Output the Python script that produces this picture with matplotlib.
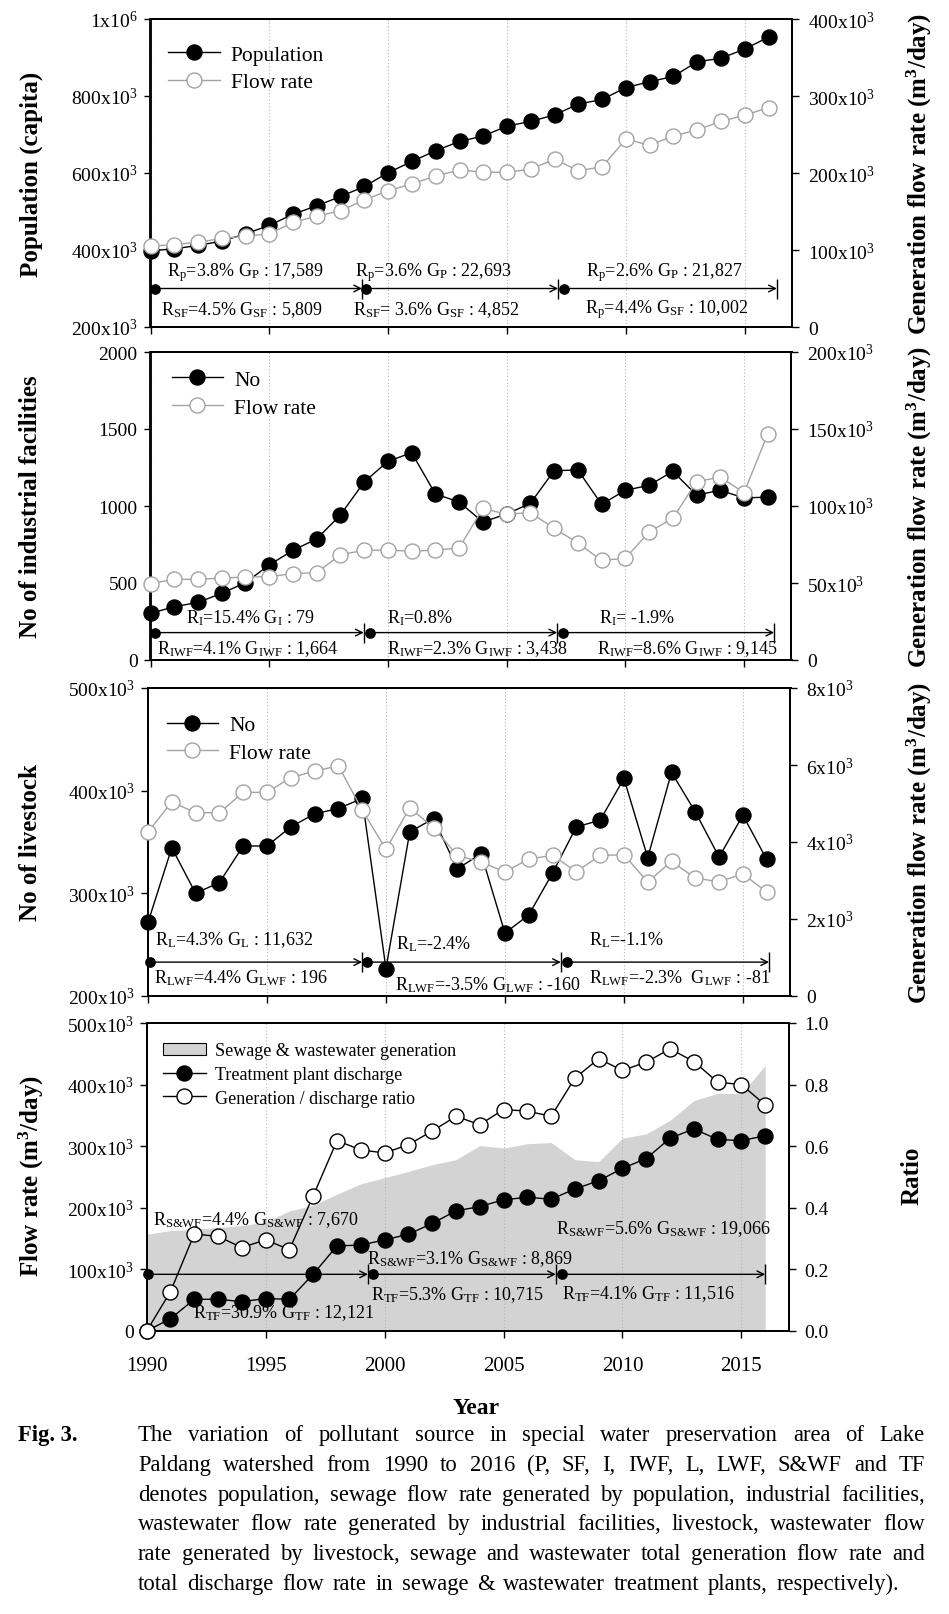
import matplotlib
matplotlib.use('Agg')
import matplotlib.pyplot as plt
from matplotlib.lines import Line2D
from matplotlib.patches import Patch

plt.rcParams['font.family'] = ['Liberation Serif', 'DejaVu Serif']
plt.rcParams['mathtext.fontset'] = 'custom'
plt.rcParams['mathtext.rm'] = 'Liberation Serif'
plt.rcParams['mathtext.it'] = 'Liberation Serif:italic'
plt.rcParams['mathtext.bf'] = 'Liberation Serif:bold'

# ---------------- data ----------------
years = list(range(1990, 2017))

population = [398e3, 403e3, 412e3, 423e3, 442e3, 464e3, 493e3, 515e3, 539e3, 565e3,
              601e3, 630e3, 658e3, 682e3, 696e3, 722e3, 734e3, 751e3, 779e3, 791e3,
              822e3, 837e3, 851e3, 889e3, 898e3, 922e3, 953e3]
pop_flow = [105e3, 107e3, 110e3, 115e3, 118e3, 121e3, 136e3, 144e3, 151e3, 165e3,
            177e3, 186e3, 196e3, 204e3, 201e3, 201e3, 205e3, 218e3, 203e3, 208e3,
            244e3, 236e3, 248e3, 256e3, 267e3, 275e3, 285e3]

ind_no = [303, 346, 374, 433, 502, 617, 712, 786, 942, 1156,
          1290, 1346, 1078, 1026, 896, 948, 1017, 1229, 1234, 1011,
          1102, 1134, 1225, 1071, 1102, 1052, 1058]
ind_flow = [49.6e3, 52.4e3, 52.4e3, 53.2e3, 53.9e3, 54.1e3, 56.1e3, 56.7e3, 68.4e3, 71.2e3,
            71.4e3, 70.6e3, 71.4e3, 72.7e3, 98.5e3, 94.6e3, 95.7e3, 85.5e3, 76.0e3, 64.7e3,
            66.0e3, 83.1e3, 92.0e3, 115.8e3, 118.8e3, 108.7e3, 146.8e3]

live_no = [271.7e3, 344.4e3, 300.1e3, 310.5e3, 346.1e3, 346.1e3, 364.7e3, 377.4e3, 382.6e3, 392.4e3,
           226.7e3, 359.8e3, 372.8e3, 323.9e3, 338.6e3, 261.3e3, 278.9e3, 319.7e3, 364.7e3, 371.2e3,
           411.9e3, 334.7e3, 417.8e3, 379.3e3, 335.3e3, 376.1e3, 333.0e3]
live_flow = [4.26e3, 5.04e3, 4.76e3, 4.76e3, 5.29e3, 5.29e3, 5.67e3, 5.84e3, 5.98e3, 4.83e3,
             3.81e3, 4.89e3, 4.37e3, 3.65e3, 3.48e3, 3.22e3, 3.56e3, 3.65e3, 3.23e3, 3.65e3,
             3.67e3, 2.96e3, 3.50e3, 3.06e3, 2.97e3, 3.17e3, 2.70e3]

sw_generation = [157e3, 163e3, 165e3, 168e3, 171e3, 177e3, 195e3, 204e3, 222e3, 239e3,
                 249e3, 259e3, 270e3, 278e3, 301e3, 297e3, 304e3, 306e3, 278e3, 275e3,
                 313e3, 320e3, 342e3, 374e3, 386e3, 385e3, 431e3]
tp_discharge = [0, 20e3, 51.5e3, 51.5e3, 47.7e3, 52.6e3, 51.5e3, 92.2e3, 138.3e3, 139.4e3,
                148e3, 157e3, 174.6e3, 195e3, 202e3, 213e3, 217e3, 214e3, 230.5e3, 244e3,
                264e3, 280e3, 313e3, 328e3, 311e3, 309e3, 317e3]
gen_ratio = [0, 0.128, 0.315, 0.307, 0.271, 0.296, 0.264, 0.439, 0.618, 0.588,
             0.578, 0.605, 0.649, 0.697, 0.670, 0.719, 0.714, 0.697, 0.821, 0.884,
             0.846, 0.873, 0.916, 0.875, 0.808, 0.800, 0.734]

# ---------------- tick labels ----------------
x_ticks = [1990, 1995, 2000, 2005, 2010, 2015]
x_labels = ['1990', '1995', '2000', '2005', '2010', '2015']

p1_left_ticks = [200e3, 400e3, 600e3, 800e3, 1e6]
p1_left_labels = ['200x10$^{3}$', '400x10$^{3}$', '600x10$^{3}$', '800x10$^{3}$', '1x10$^{6}$']
p1_right_ticks = [0, 100e3, 200e3, 300e3, 400e3]
p1_right_labels = ['0', '100x10$^{3}$', '200x10$^{3}$', '300x10$^{3}$', '400x10$^{3}$']

p2_left_ticks = [0, 500, 1000, 1500, 2000]
p2_left_labels = ['0', '500', '1000', '1500', '2000']
p2_right_ticks = [0, 50e3, 100e3, 150e3, 200e3]
p2_right_labels = ['0', '50x10$^{3}$', '100x10$^{3}$', '150x10$^{3}$', '200x10$^{3}$']

p3_left_ticks = [200e3, 300e3, 400e3, 500e3]
p3_left_labels = ['200x10$^{3}$', '300x10$^{3}$', '400x10$^{3}$', '500x10$^{3}$']
p3_right_ticks = [0, 2e3, 4e3, 6e3, 8e3]
p3_right_labels = ['0', '2x10$^{3}$', '4x10$^{3}$', '6x10$^{3}$', '8x10$^{3}$']

p4_left_ticks = [0, 100e3, 200e3, 300e3, 400e3, 500e3]
p4_left_labels = ['0', '100x10$^{3}$', '200x10$^{3}$', '300x10$^{3}$', '400x10$^{3}$', '500x10$^{3}$']
p4_right_ticks = [0, 0.2, 0.4, 0.6, 0.8, 1.0]
p4_right_labels = ['0.0', '0.2', '0.4', '0.6', '0.8', '1.0']

# ---------------- figure ----------------
W, H = 949, 1615
fig = plt.figure(figsize=(W / 100, H / 100), dpi=100)
fig.patch.set_facecolor('white')


def add_axes_px(left, right, top, bottom):
    return fig.add_axes([left / W, 1 - bottom / H, (right - left) / W, (bottom - top) / H])


GRAY = '#a3a3a3'
MS = 10.8
TICK_FS = 14
ANN_FS = 13

black_kw = dict(color='k', lw=1.0, marker='o', ms=MS, mfc='k', mec='k', mew=1.0,
                clip_on=False, zorder=3)
gray_kw = dict(color=GRAY, lw=1.0, marker='o', ms=MS, mfc='white', mec=GRAY, mew=1.0,
               clip_on=False, zorder=3)
open_kw = dict(color='k', lw=1.0, marker='o', ms=MS, mfc='white', mec='k', mew=1.0,
               clip_on=False, zorder=3)


def style(ax, ax2, lt, ll, rt, rl, ylim_l, ylim_r, show_x):
    for a in (ax, ax2):
        for s in a.spines.values():
            s.set_linewidth(1.3)
    ax.set_xlim(1990, 2017)
    ax.set_ylim(*ylim_l)
    ax2.set_ylim(*ylim_r)
    ax.set_xticks(x_ticks)
    if show_x:
        ax.set_xticklabels(x_labels)
    else:
        ax.set_xticklabels([])
    ax.set_yticks(lt, ll)
    ax2.set_yticks(rt, rl)
    ax.tick_params(axis='y', direction='out', length=5.3, width=1.0, labelsize=TICK_FS, pad=4)
    ax2.tick_params(axis='y', direction='out', length=5.3, width=1.0, labelsize=TICK_FS, pad=6)
    ax.tick_params(axis='x', direction='out', length=5.3, width=1.0, labelsize=15, pad=12.5)
    ax.grid(axis='x', linestyle=(0, (1, 2)), color='#b5b5b5', lw=0.8)
    ax.set_axisbelow(True)


def arrows(ax, y, segs):
    for x0, x1 in segs:
        ax.annotate('', xy=(x1, y), xytext=(x0, y),
                    arrowprops=dict(arrowstyle='->', color='k', lw=1.0,
                                    shrinkA=0, shrinkB=0, mutation_scale=12),
                    zorder=4)
        ax.plot([x0], [y], 'o', color='k', ms=6.7, zorder=5, clip_on=False)
        ax.plot([x1], [y], marker='|', color='k', ms=14, mew=1.0, zorder=5, clip_on=False)


def notes(ax, items):
    for x, y, s in items:
        ax.text(x, y, s, fontsize=ANN_FS, ha='center', va='center', zorder=6)


def sub(s):
    return '$_{\\mathrm{' + s + '}}$'


def clean(kw):
    return {k: v for k, v in kw.items() if k not in ('clip_on', 'zorder')}


LEG_KW = dict(loc='upper left', frameon=False, fontsize=15.5, handlelength=2.4,
              handletextpad=0.5, labelspacing=0.36, borderpad=0, borderaxespad=0)

# ---- Panel 1 ----
ax1 = add_axes_px(150.5, 792.3, 20, 328)
ax1b = ax1.twinx()
style(ax1, ax1b, p1_left_ticks, p1_left_labels, p1_right_ticks, p1_right_labels,
      (200e3, 1e6), (0, 400e3), False)
ax1.plot(years, population, **black_kw)
ax1b.plot(years, pop_flow, **gray_kw)
arrows(ax1, 300e3, [(1990.2, 1998.9), (1999.06, 2007.15), (2007.4, 2016.35)])
notes(ax1, [
    (1994.0, 345e3, 'R' + sub('p') + '=3.8% G' + sub('P') + ' : 17,589'),
    (2001.9, 345e3, 'R' + sub('p') + '=3.6% G' + sub('P') + ' : 22,693'),
    (2011.6, 345e3, 'R' + sub('p') + '=2.6% G' + sub('P') + ' : 21,827'),
    (1993.85, 247e3, 'R' + sub('SF') + '=4.5% G' + sub('SF') + ' : 5,809'),
    (2002.0, 247e3, 'R' + sub('SF') + '= 3.6% G' + sub('SF') + ' : 4,852'),
    (2011.7, 247e3, 'R' + sub('p') + '=4.4% G' + sub('SF') + ' : 10,002'),
])
h1 = [Line2D([], [], **clean(black_kw)), Line2D([], [], **clean(gray_kw))]
ax1b.legend(h1, ['Population', 'Flow rate'], bbox_to_anchor=(0.028, 0.917), **LEG_KW)

# ---- Panel 2 ----
ax2 = add_axes_px(150.5, 791.5, 353, 661)
ax2b = ax2.twinx()
style(ax2, ax2b, p2_left_ticks, p2_left_labels, p2_right_ticks, p2_right_labels,
      (0, 2000), (0, 200e3), False)
ax2.plot(years, ind_no, **black_kw)
ax2b.plot(years, ind_flow, **gray_kw)
arrows(ax2, 178, [(1990.2, 1998.98), (1999.24, 2007.13), (2007.39, 2016.27)])
notes(ax2, [
    (1994.2, 279, 'R' + sub('I') + '=15.4% G' + sub('I') + ' : 79'),
    (2001.35, 279, 'R' + sub('I') + '=0.8%'),
    (2010.5, 279, 'R' + sub('I') + '= -1.9%'),
    (1994.1, 80, 'R' + sub('IWF') + '=4.1% G' + sub('IWF') + ' : 1,664'),
    (2003.75, 80, 'R' + sub('IWF') + '=2.3% G' + sub('IWF') + ' : 3,438'),
    (2012.6, 80, 'R' + sub('IWF') + '=8.6% G' + sub('IWF') + ' : 9,145'),
])
ax2b.legend(h1, ['No', 'Flow rate'], bbox_to_anchor=(0.033, 0.942), **LEG_KW)

# ---- Panel 3 ----
ax3 = add_axes_px(148.0, 790.5, 689, 997)
ax3b = ax3.twinx()
style(ax3, ax3b, p3_left_ticks, p3_left_labels, p3_right_ticks, p3_right_labels,
      (200e3, 500e3), (0, 8e3), False)
ax3.plot(years, live_no, **black_kw)
ax3b.plot(years, live_flow, **gray_kw)
arrows(ax3, 233e3, [(1990.1, 1999.0), (1999.2, 2007.35), (2007.6, 2016.1)])
notes(ax3, [
    (1993.6, 255.4e3, 'R' + sub('L') + '=4.3% G' + sub('L') + ' : 11,632'),
    (1993.9, 218e3, 'R' + sub('LWF') + '=4.4% G' + sub('LWF') + ' : 196'),
    (2002.0, 251.5e3, 'R' + sub('L') + '=-2.4%'),
    (2004.3, 212e3, 'R' + sub('LWF') + '=-3.5% G' + sub('LWF') + ' : -160'),
    (2010.1, 255e3, 'R' + sub('L') + '=-1.1%'),
    (2012.35, 218e3, 'R' + sub('LWF') + '=-2.3%  G' + sub('LWF') + ' : -81'),
])
ax3b.legend(h1, ['No', 'Flow rate'], bbox_to_anchor=(0.029, 0.912), **LEG_KW)

# ---- Panel 4 ----
ax4 = add_axes_px(146.7, 789.0, 1024, 1332)
ax4b = ax4.twinx()
style(ax4, ax4b, p4_left_ticks, p4_left_labels, p4_right_ticks, p4_right_labels,
      (0, 500e3), (0, 1.0), True)
ax4.fill_between(years, sw_generation, 0, color='#d3d3d3', lw=0, zorder=0.2)
ax4.plot(years, tp_discharge, **black_kw)
ax4b.plot(years, gen_ratio, **open_kw)
arrows(ax4, 92e3, [(1990.05, 1999.3), (1999.5, 2007.2), (2007.45, 2016.0)])
swf = sub('S&WF')
notes(ax4, [
    (1994.6, 181.7e3, 'R' + swf + '=4.4% G' + swf + ' : 7,670'),
    (1995.75, 30e3, 'R' + sub('TF') + '=30.9% G' + sub('TF') + ' : 12,121'),
    (2003.6, 119e3, 'R' + swf + '=3.1% G' + swf + ' : 8,869'),
    (2003.05, 60e3, 'R' + sub('TF') + '=5.3% G' + sub('TF') + ' : 10,715'),
    (2011.7, 167e3, 'R' + swf + '=5.6% G' + swf + ' : 19,066'),
    (2011.07, 61e3, 'R' + sub('TF') + '=4.1% G' + sub('TF') + ' : 11,516'),
])
h4 = [Patch(facecolor='#d3d3d3', edgecolor='k', lw=0.8),
      Line2D([], [], **clean(black_kw)), Line2D([], [], **clean(open_kw))]
ax4b.legend(h4, ['Sewage & wastewater generation', 'Treatment plant discharge',
                 'Generation / discharge ratio'], loc='upper left', bbox_to_anchor=(0.025, 0.937),
            frameon=False, fontsize=13, handlelength=2.4, handletextpad=0.5,
            labelspacing=0.37, borderpad=0, borderaxespad=0)

# ---------------- axis titles ----------------
LBL_FS = 18


def ftext(xp, yp, s, **kw):
    return fig.text(xp / W, 1 - yp / H, s, **kw)


ftext(31, 174, 'Population (capita)', rotation=90, ha='center', va='center',
      fontsize=LBL_FS, fontweight='bold')
ftext(31, 507, 'No of industrial facilities', rotation=90, ha='center', va='center',
      fontsize=LBL_FS, fontweight='bold')
ftext(31, 843, 'No of livestock', rotation=90, ha='center', va='center',
      fontsize=LBL_FS, fontweight='bold')
ftext(31, 1176, 'Flow rate (m$^{\\mathbf{3}}$/day)', rotation=90, ha='center', va='center',
      fontsize=LBL_FS, fontweight='bold')
for yc in (174, 507, 843):
    ftext(919, yc, 'Generation flow rate (m$^{\\mathbf{3}}$/day)', rotation=90, ha='center',
          va='center', fontsize=LBL_FS, fontweight='bold')
ftext(912, 1176, 'Ratio', rotation=90, ha='center', va='center', fontsize=LBL_FS,
      fontweight='bold')
ftext(476, 1408, 'Year', ha='center', va='center', fontsize=17, fontweight='bold')

# ---------------- caption ----------------
caption_lines = [
    'The variation of pollutant source in special water preservation area of Lake',
    'Paldang watershed from 1990 to 2016 (P, SF, I, IWF, L, LWF, S&WF and TF',
    'denotes population, sewage flow rate generated by population, industrial facilities,',
    'wastewater flow rate generated by industrial facilities, livestock, wastewater flow',
    'rate generated by livestock, sewage and wastewater total generation flow rate and',
    'total discharge flow rate in sewage & wastewater treatment plants, respectively).',
]
CAP_FS = 16.3
renderer = fig.canvas.get_renderer()
x_left, x_right = 138, 925
base0, step = 1441, 29.8
ftext(18.5, base0, 'Fig. 3.', ha='left', va='baseline', fontsize=CAP_FS, fontweight='bold')
for i, line in enumerate(caption_lines):
    words = line.split(' ')
    objs = [ftext(0, 0, w, ha='left', va='baseline', fontsize=CAP_FS) for w in words]
    widths = [o.get_window_extent(renderer).width for o in objs]
    right = x_right if i < len(caption_lines) - 1 else x_left + 0.967 * (x_right - x_left)
    gap = (right - x_left - sum(widths)) / (len(words) - 1)
    x = x_left
    yb = base0 + i * step
    for o, w in zip(objs, widths):
        o.set_position((x / W, 1 - yb / H))
        x += w + gap

fig.savefig('out.png', dpi=100, facecolor='white')
